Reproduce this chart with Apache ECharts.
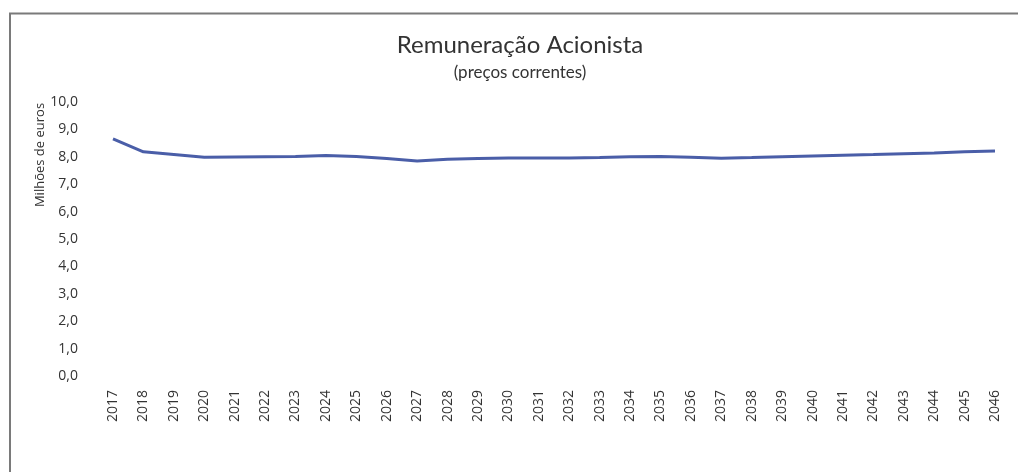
<!DOCTYPE html>
<html>
<head>
<meta charset="utf-8">
<script src="https://cdn.jsdelivr.net/npm/echarts@6/dist/echarts.min.js"></script>
<style>
html,body{margin:0;padding:0;background:#fff;}
#chart{width:1018px;height:472px;}
</style>
</head>
<body>
<div id="chart"></div>
<script>
var years = ['2017','2018','2019','2020','2021','2022','2023','2024','2025','2026','2027','2028','2029','2030','2031','2032','2033','2034','2035','2036','2037','2038','2039','2040','2041','2042','2043','2044','2045','2046'];
var remuneracao = [8.65,8.18,8.08,7.98,7.99,8.00,8.01,8.05,8.01,7.94,7.85,7.91,7.94,7.96,7.96,7.96,7.97,8.00,8.01,7.98,7.95,7.97,8.00,8.03,8.06,8.08,8.11,8.14,8.18,8.21];
var titleText = 'Remuneração Acionista';
var subtitleText = '(preços correntes)';
var yAxisName = 'Milhões de euros';

var chart = echarts.init(document.getElementById('chart'), null, {renderer:'canvas'});
chart.setOption({
  backgroundColor:'#fff',
  animation:false,
  graphic:[
    {type:'polyline',shape:{points:[[10,480],[10,13.5],[1020,13.5]]},style:{stroke:'#7a7a7a',lineWidth:2,fill:null}},
    {type:'text',x:520,y:45,style:{text:titleText,font:'24px Lato',fill:'#333',textAlign:'center',textVerticalAlign:'middle'}},
    {type:'text',x:520,y:73,style:{text:subtitleText,font:'17px Lato',fill:'#333',textAlign:'center',textVerticalAlign:'middle'}},
    {type:'text',x:40,y:155,rotation:Math.PI/2,style:{text:yAxisName,font:'13px "Open Sans"',fill:'#333',textAlign:'center',textVerticalAlign:'middle'}}
  ],
  grid:{left:113,right:23,top:102,bottom:96,containLabel:false},
  xAxis:{
    type:'category',
    data:years,
    boundaryGap:false,
    axisLine:{show:false},
    axisTick:{show:false},
    axisLabel:{rotate:90,margin:14,fontFamily:'Open Sans',fontSize:14,color:'#333',interval:0}
  },
  yAxis:{
    type:'value',
    min:0,max:10,interval:1,
    axisLine:{show:false},
    axisTick:{show:false},
    splitLine:{show:false},
    axisLabel:{margin:35,fontFamily:'Open Sans',fontSize:14,color:'#333',
      formatter:function(v){return v.toFixed(1).replace('.',',');}}
  },
  series:[{
    type:'line',
    data:remuneracao,
    showSymbol:false,
    lineStyle:{color:'#4a5ea8',width:3},
    itemStyle:{color:'#4a5ea8'}
  }]
});
</script>
</body>
</html>
